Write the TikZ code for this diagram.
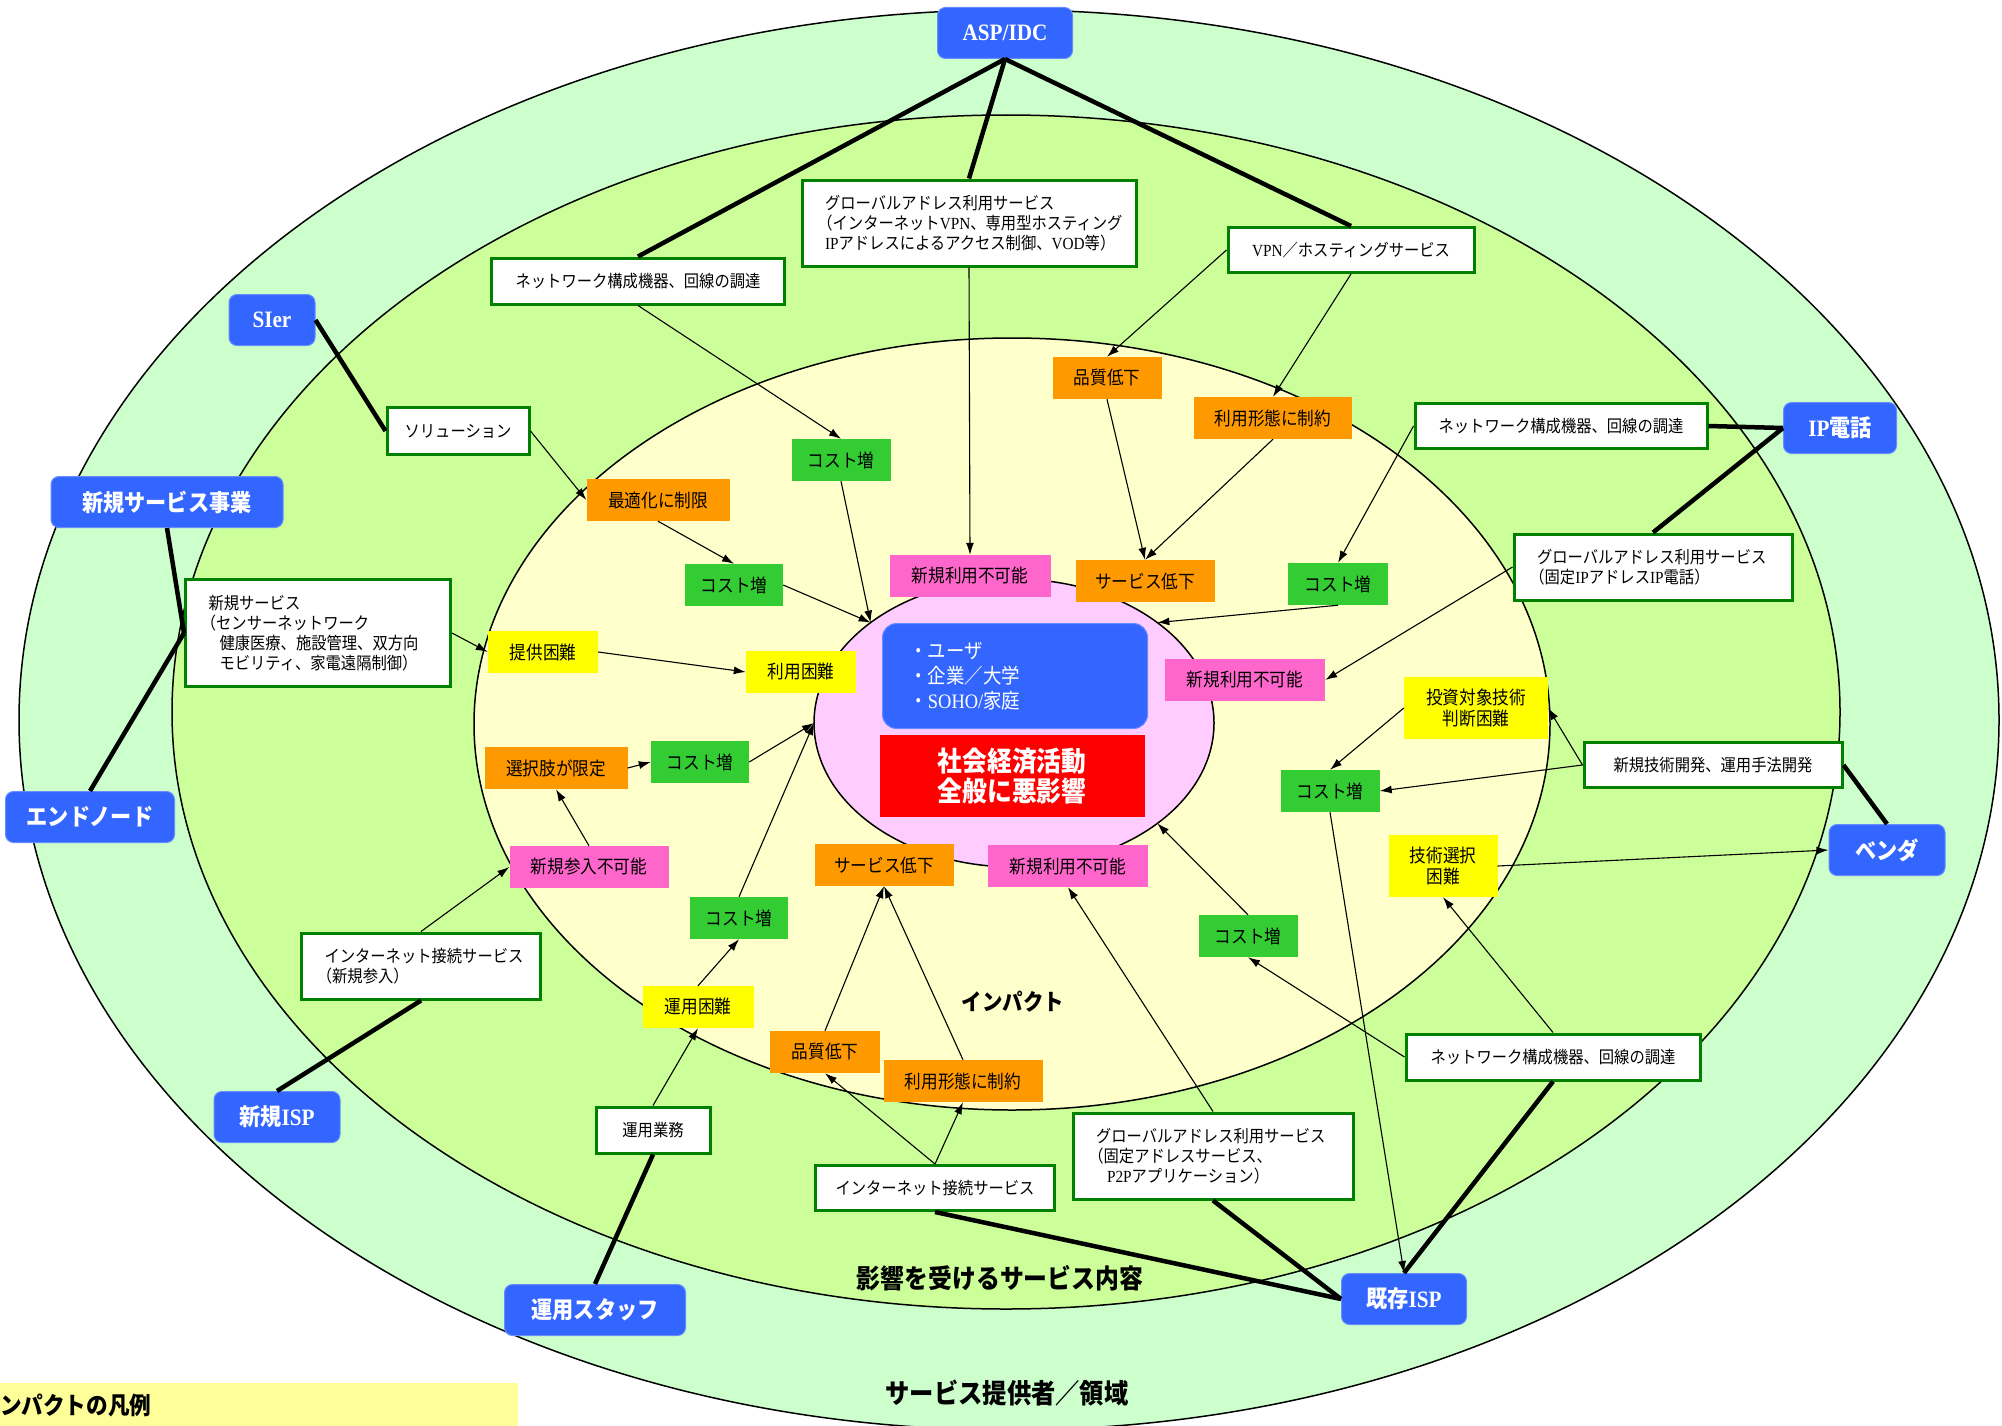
\documentclass[tikz,border=0pt]{standalone}
\usepackage{fontspec}
\setmainfont{Noto Sans CJK JP}[FakeStretch=0.9]
\newfontfamily\latn{Liberation Serif}[FakeStretch=0.9]
\usetikzlibrary{shapes.geometric,arrows.meta}

\definecolor{providergreen}{HTML}{CCFFCC}
\definecolor{servicegreen}{HTML}{CCFF99}
\definecolor{impactyellow}{HTML}{FFFFCC}
\definecolor{centerpink}{HTML}{FFCCFF}
\definecolor{actorblue}{HTML}{3366FF}
\definecolor{boxgreen}{HTML}{008000}
\definecolor{costgreen}{HTML}{33CC33}
\definecolor{limitorange}{HTML}{FF9900}
\definecolor{blockpink}{HTML}{FF66CC}
\definecolor{hardyellow}{HTML}{FFFF00}
\definecolor{legendyellow}{HTML}{FFFF99}

\newcommand\actorfont{\bfseries\fontsize{23.5}{26}\selectfont}
\newcommand\svcfont{\fontsize{17}{20}\selectfont}
\newcommand\impfont{\fontsize{18.5}{21}\selectfont}
\newcommand\openp{\leavevmode\kern-.45em（}

\begin{document}
\begin{tikzpicture}[x=1pt, y=-1pt,
  ring/.style={ellipse, draw, line width=1.5pt, inner sep=0pt, outer sep=0pt},
  actor/.style={rounded corners=8pt, fill=actorblue, draw=actorblue!75!white, line width=1pt, text=white, font=\actorfont, minimum height=51, inner sep=0pt},
  svc/.style={draw=boxgreen, line width=3pt, fill=white, font=\svcfont, minimum height=46, inner sep=0pt},
  svcmulti/.style={svc, align=left, inner xsep=23pt},
  imp/.style={font=\impfont, minimum height=42, inner sep=0pt, align=center},
  cost/.style={imp, fill=costgreen},
  limit/.style={imp, fill=limitorange},
  block/.style={imp, fill=blockpink},
  hard/.style={imp, fill=hardyellow},
  link/.style={line width=4.5pt},
  effect/.style={-{Latex[length=12pt,width=8pt]}, line width=1.1pt}]
\useasboundingbox (0,0) rectangle (2002,1426);

\path (1009,720) node[ring, fill=providergreen, minimum width=1980, minimum height=1420] (provider-ring) {};
\path (1006,712) node[ring, fill=servicegreen, minimum width=1668, minimum height=1194] (service-ring) {};
\path (1012,724) node[ring, fill=impactyellow, minimum width=1076, minimum height=772] (impact-ring) {};
\path (1014,723) node[ring, fill=centerpink, minimum width=400, minimum height=288] (center-circle) {};

\path (1007,1393) node[font=\bfseries\fontsize{27}{30}\selectfont] (provider-label) {サービス提供者／領域};
\path (1000,1278) node[font=\bfseries\fontsize{26.5}{30}\selectfont] (service-label) {影響を受けるサービス内容};
\path (1013,1002) node[font=\bfseries\fontsize{22.7}{26}\selectfont] (impact-label) {インパクト};
\path (0,1405) node[anchor=west, fill=legendyellow, minimum width=518, minimum height=44, inner sep=0pt, text width=518, align=left, font=\bfseries\fontsize{24}{26}\selectfont] (legend) {ンパクトの凡例};

\path (1005,33) node[actor, minimum width=135] (asp-idc) {\latn ASP/IDC};
\path (272,320) node[actor, minimum width=86] (sier) {\latn SIer};
\path (167,502) node[actor, minimum width=232] (new-service-biz) {新規サービス事業};
\path (90,817) node[actor, minimum width=169] (end-node) {エンドノード};
\path (1840,428) node[actor, minimum width=113] (ip-phone) {{\latn IP}電話};
\path (1887,850) node[actor, minimum width=116] (vendor) {ベンダ};
\path (277,1117) node[actor, minimum width=126] (new-isp) {新規{\latn ISP}};
\path (595,1310) node[actor, minimum width=181] (ops-staff) {運用スタッフ};
\path (1404,1299) node[actor, minimum width=125] (old-isp) {既存{\latn ISP}};

\path (638,281) node[svc, minimum width=293] (net-equip-top) {ネットワーク構成機器、回線の調達};
\path (969,223) node[svcmulti, text width=288, minimum height=86] (global-addr-top) {グローバルアドレス利用サービス\\\openp インターネット{\latn VPN}、専用型ホスティング\\{\latn IP}アドレスによるアクセス制御、{\latn VOD}等）};
\path (1351,250) node[svc, minimum width=246, minimum height=45] (vpn-hosting) {{\latn VPN}／ホスティングサービス};
\path (458,431) node[svc, minimum width=142, minimum height=47] (solution) {ソリューション};
\path (1561,426) node[svc, minimum width=292, minimum height=45] (net-equip-right) {ネットワーク構成機器、回線の調達};
\path (1653,567) node[svcmulti, text width=232, minimum height=66] (global-addr-ipphone) {グローバルアドレス利用サービス\\\openp 固定{\latn IP}アドレス{\latn IP}電話）};
\path (318,633) node[svcmulti, text width=219, minimum height=107] (new-service) {新規サービス\\\openp センサーネットワーク\\\hspace*{11pt}健康医療、施設管理、双方向\\\hspace*{11pt}モビリティ、家電遠隔制御）};
\path (1713,765) node[svc, minimum width=258, minimum height=45] (new-tech-dev) {新規技術開発、運用手法開発};
\path (421,966) node[svcmulti, text width=193, minimum height=66] (inet-new) {インターネット接続サービス\\\openp 新規参入）};
\path (653,1130) node[svc, minimum width=114, minimum height=46] (ops-work) {運用業務};
\path (935,1188) node[svc, minimum width=239, minimum height=45] (inet-conn) {インターネット接続サービス};
\path (1213,1156) node[svcmulti, text width=234, minimum height=86] (global-addr-p2p) {グローバルアドレス利用サービス\\\openp 固定アドレスサービス、\\\hspace*{11pt}{\latn P2P}アプリケーション）};
\path (1553,1057) node[svc, minimum width=294, minimum height=46] (net-equip-bottom) {ネットワーク構成機器、回線の調達};

\path (841,460) node[cost, minimum width=99] (cost-top) {コスト増};
\path (734,585) node[cost, minimum width=98] (cost-left-top) {コスト増};
\path (1338,584) node[cost, minimum width=100] (cost-right-top) {コスト増};
\path (700,762) node[cost, minimum width=98] (cost-left) {コスト増};
\path (1330,791) node[cost, minimum width=99] (cost-right) {コスト増};
\path (739,918) node[cost, minimum width=98] (cost-left-bottom) {コスト増};
\path (1248,936) node[cost, minimum width=99] (cost-right-bottom) {コスト増};

\path (658,500) node[limit, minimum width=143] (optimize-limit) {最適化に制限};
\path (1107,378) node[limit, minimum width=109] (quality-top) {品質低下};
\path (1273,418) node[limit, minimum width=158] (usage-top) {利用形態に制約};
\path (1145,581) node[limit, minimum width=139] (svc-down-top) {サービス低下};
\path (556,768) node[limit, minimum width=143] (choice-limited) {選択肢が限定};
\path (884,865) node[limit, minimum width=139] (svc-down-bottom) {サービス低下};
\path (825,1052) node[limit, minimum width=110] (quality-bottom) {品質低下};
\path (963,1081) node[limit, minimum width=159] (usage-bottom) {利用形態に制約};

\path (970,576) node[block, minimum width=161] (newuse-top) {新規利用不可能};
\path (1245,680) node[block, minimum width=160] (newuse-right) {新規利用不可能};
\path (589,867) node[block, minimum width=159] (entry-blocked) {新規参入不可能};
\path (1068,866) node[block, minimum width=160] (newuse-bottom) {新規利用不可能};

\path (543,652) node[hard, minimum width=110] (supply-hard) {提供困難};
\path (801,672) node[hard, minimum width=110] (use-hard) {利用困難};
\path (1476,708) node[hard, minimum width=144, minimum height=62] (invest-hard) {投資対象技術\\判断困難};
\path (1443,866) node[hard, minimum width=109, minimum height=62] (select-hard) {技術選択\\困難};
\path (698,1007) node[hard, minimum width=111] (ops-hard) {運用困難};

\path (1015,676) node[rounded corners=14pt, fill=actorblue, draw=actorblue!75!white, line width=1pt, text=white, minimum width=265, minimum height=105, text width=211, inner xsep=27pt, inner ysep=0pt, align=left, font=\fontsize{20.5}{25}\selectfont] (users-box) {・ユーザ\\・企業／大学\\・{\latn SOHO/}家庭};
\path (1012,776) node[fill=red, minimum width=265, minimum height=82, inner sep=0pt, text=white, align=center, font=\bfseries\fontsize{27.5}{30}\selectfont] (harm-box) {社会経済活動\\全般に悪影響};

\draw[link] (asp-idc.south) -- (net-equip-top.north);
\draw[link] (asp-idc.south) -- (global-addr-top.north);
\draw[link] (asp-idc.south) -- (vpn-hosting.north);
\draw[link] (sier.east) -- (solution.west);
\draw[link] (new-service-biz.south) -- (new-service.west);
\draw[link] (end-node.north) -- (new-service.west);
\draw[link] (ip-phone.west) -- (net-equip-right.east);
\draw[link] (ip-phone.west) -- (global-addr-ipphone.north);
\draw[link] (vendor.north) -- (new-tech-dev.east);
\draw[link] (new-isp.north) -- (inet-new.south);
\draw[link] (ops-staff.north) -- (ops-work.south);
\draw[link] (inet-conn.south) -- (old-isp.west);
\draw[link] (global-addr-p2p.south) -- (old-isp.west);
\draw[link] (net-equip-bottom.south) -- (old-isp.north);

\draw[effect] (net-equip-top.south) -- (cost-top.north);
\draw[effect] (global-addr-top.south) -- (newuse-top.north);
\draw[effect] (vpn-hosting.west) -- (quality-top.north);
\draw[effect] (vpn-hosting.south) -- (usage-top.north);
\draw[effect] (solution.east) -- (optimize-limit.west);
\draw[effect] (optimize-limit.south) -- (cost-left-top.north);
\draw[effect] (cost-left-top.east) -- (center-circle.145);
\draw[effect] (cost-top.south) -- (center-circle.145);
\draw[effect] (new-service.east) -- (supply-hard.west);
\draw[effect] (supply-hard.east) -- (use-hard.west);
\draw[effect] (quality-top.south) -- (svc-down-top.north);
\draw[effect] (usage-top.south) -- (svc-down-top.north);
\draw[effect] (net-equip-right.west) -- (cost-right-top.north);
\draw[effect] (cost-right-top.south) -- (center-circle.35);
\draw[effect] (global-addr-ipphone.west) -- (newuse-right.east);
\draw[effect] (new-tech-dev.west) -- (invest-hard.east);
\draw[effect] (new-tech-dev.west) -- (cost-right.east);
\draw[effect] (invest-hard.west) -- (cost-right.north);
\draw[effect] (cost-right.south) -- (old-isp.north);
\draw[effect] (select-hard.east) -- (vendor.west);
\draw[effect] (net-equip-bottom.north) -- (select-hard.south);
\draw[effect] (net-equip-bottom.west) -- (cost-right-bottom.south);
\draw[effect] (cost-right-bottom.north) -- (center-circle.-35);
\draw[effect] (global-addr-p2p.north) -- (newuse-bottom.south);
\draw[effect] (inet-conn.north) -- (quality-bottom.south);
\draw[effect] (inet-conn.north) -- (usage-bottom.south);
\draw[effect] (quality-bottom.north) -- (svc-down-bottom.south);
\draw[effect] (usage-bottom.north) -- (svc-down-bottom.south);
\draw[effect] (ops-work.north) -- (ops-hard.south);
\draw[effect] (ops-hard.north) -- (cost-left-bottom.south);
\draw[effect] (cost-left-bottom.north) -- (center-circle.west);
\draw[effect] (cost-left.east) -- (center-circle.west);
\draw[effect] (choice-limited.east) -- (cost-left.west);
\draw[effect] (entry-blocked.north) -- (choice-limited.south);
\draw[effect] (inet-new.north) -- (entry-blocked.west);

\end{tikzpicture}
\end{document}
